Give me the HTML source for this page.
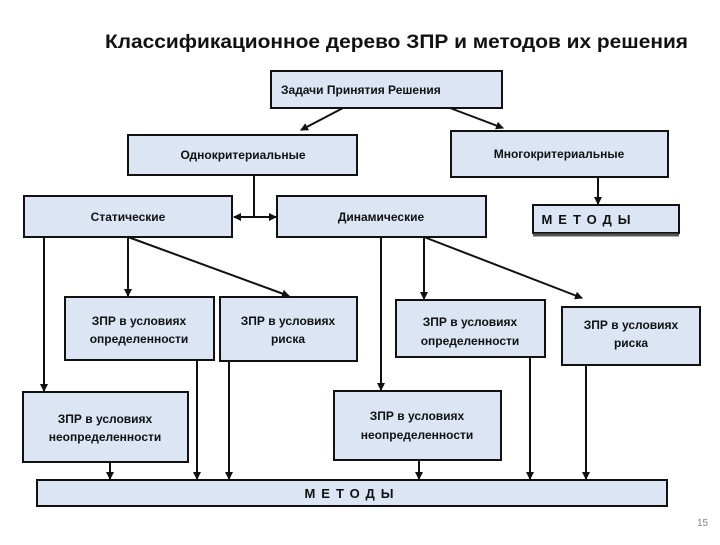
<!DOCTYPE html>
<html><head><meta charset="utf-8"><style>
body{margin:0;background:#fff}
svg text{font-family:"Liberation Sans","Noto Sans CJK SC",sans-serif;fill:#111}
</style></head><body>
<svg width="720" height="540" viewBox="0 0 720 540" xmlns="http://www.w3.org/2000/svg">
<defs><marker id="a" markerWidth="8" markerHeight="8" refX="7" refY="4" orient="auto" markerUnits="userSpaceOnUse"><path d="M0,0 L8,4 L0,8 z" fill="#111"/></marker></defs>
<rect width="720" height="540" fill="#fff"/>
<text x="105" y="48" font-size="19" font-weight="bold" textLength="583" lengthAdjust="spacingAndGlyphs">Классификационное дерево ЗПР и методов их решения</text>
<g fill="#dbe5f4" stroke="#111" stroke-width="2">
<rect x="271" y="71" width="231" height="37"/>
<rect x="128" y="135" width="229" height="40"/>
<rect x="451" y="131" width="217" height="46"/>
<rect x="24" y="196" width="208" height="41"/>
<rect x="277" y="196" width="209" height="41"/>
<rect x="533" y="205" width="146" height="28"/>
<rect x="65" y="297" width="149" height="63"/>
<rect x="220" y="297" width="137" height="64"/>
<rect x="396" y="300" width="149" height="57"/>
<rect x="562" y="307" width="138" height="58"/>
<rect x="23" y="392" width="165" height="70"/>
<rect x="334" y="391" width="167" height="69"/>
<rect x="37" y="480" width="630" height="26"/>
</g>
<line x1="533" y1="235" x2="679" y2="235" stroke="#555" stroke-width="3"/>
<g font-size="12" font-weight="bold" text-anchor="middle">
<text x="281" y="94" text-anchor="start">Задачи Принятия Решения</text>
<text x="243" y="159">Однокритериальные</text>
<text x="559" y="158">Многокритериальные</text>
<text x="128" y="221">Статические</text>
<text x="381" y="221">Динамические</text>
<text x="589" y="224" font-size="13" letter-spacing="6">МЕТОДЫ</text>
<text x="139" y="325">ЗПР в условиях</text><text x="139" y="343">определенности</text>
<text x="288" y="325">ЗПР в условиях</text><text x="288" y="343">риска</text>
<text x="470" y="326">ЗПР в условиях</text><text x="470" y="345">определенности</text>
<text x="631" y="329">ЗПР в условиях</text><text x="631" y="347">риска</text>
<text x="105" y="423">ЗПР в условиях</text><text x="105" y="441">неопределенности</text>
<text x="417" y="420">ЗПР в условиях</text><text x="417" y="439">неопределенности</text>
<text x="352" y="498" font-size="13" letter-spacing="6">МЕТОДЫ</text>
</g>
<text x="697" y="526" font-size="10" style="fill:#888">15</text>
<g stroke="#111" stroke-width="2" fill="none" marker-end="url(#a)">
<line x1="343" y1="108" x2="301" y2="130"/>
<line x1="450" y1="108" x2="503" y2="128"/>
<polyline points="254,175 254,217 234,217" />
<line x1="254" y1="217" x2="276" y2="217"/>
<line x1="598" y1="177" x2="598" y2="204"/>
<line x1="44" y1="237" x2="44" y2="391"/>
<line x1="128" y1="237" x2="128" y2="296"/>
<line x1="128" y1="237" x2="289" y2="296"/>
<line x1="381" y1="237" x2="381" y2="390"/>
<line x1="424" y1="237" x2="424" y2="299"/>
<line x1="424" y1="237" x2="582" y2="298"/>
<line x1="110" y1="462" x2="110" y2="479"/>
<line x1="197" y1="361" x2="197" y2="479"/>
<line x1="229" y1="362" x2="229" y2="479"/>
<line x1="419" y1="460" x2="419" y2="479"/>
<line x1="530" y1="357" x2="530" y2="479"/>
<line x1="586" y1="365" x2="586" y2="479"/>
</g>
</svg>
</body></html>
